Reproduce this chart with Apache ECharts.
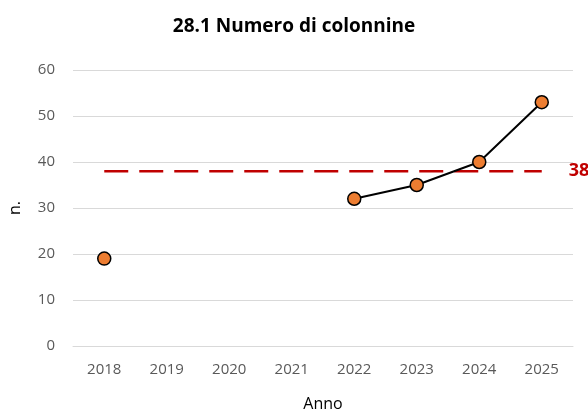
<!DOCTYPE html>
<html>
<head>
<meta charset="utf-8">
<script src="https://cdn.jsdelivr.net/npm/echarts@6/dist/echarts.min.js"></script>
<style>
  html, body { margin: 0; padding: 0; background: #fff; }
  #chart { width: 588px; height: 414px; }
</style>
</head>
<body>
<div id="chart"></div>
<script>
// anni e valori
const anni = ['2018', '2019', '2020', '2021', '2022', '2023', '2024', '2025']
const colonnine = [19, null, null, null, 32, 35, 40, 53]
const soglia = [38, 38, 38, 38, 38, 38, 38, 38]

const chart = echarts.init(document.getElementById('chart'))
const font = '"Open Sans", "Noto Sans", sans-serif'

chart.setOption({
  animation: false,
  textStyle: { fontFamily: font },
  title: {
    text: '28.1 Numero di colonnine',
    left: 'center',
    top: 12,
    textStyle: { fontSize: 19, fontWeight: 'bold', color: '#000', fontFamily: font }
  },
  grid: { left: 73, right: 15, top: 70, bottom: 68, outerBoundsMode: 'none' },
  xAxis: {
    type: 'category',
    data: anni,
    name: 'Anno',
    nameLocation: 'middle',
    nameGap: 50,
    nameTextStyle: { fontSize: 16, color: '#000' },
    axisLine: { lineStyle: { color: '#d9d9d9', width: 1 } },
    axisTick: { show: false },
    axisLabel: { color: '#595959', fontSize: 15, margin: 16 }
  },
  yAxis: {
    type: 'value',
    min: 0,
    max: 60,
    interval: 10,
    name: 'n.',
    nameLocation: 'middle',
    nameGap: 50,
    nameTextStyle: { fontSize: 16, color: '#000' },
    axisLine: { show: false },
    axisTick: { show: false },
    axisLabel: { color: '#595959', fontSize: 15, margin: 18 },
    splitLine: { lineStyle: { color: '#d9d9d9', width: 1 } }
  },
  series: [
    {
      // linea di riferimento tratteggiata
      type: 'line',
      data: soglia,
      symbol: 'none',
      silent: true,
      lineStyle: { color: '#c00000', width: 2.5, type: [24, 11] },
      endLabel: {
        show: true,
        formatter: '38',
        distance: 27,
        color: '#c00000',
        fontWeight: 'bold',
        fontSize: 18,
        fontFamily: font
      },
      z: 1
    },
    {
      type: 'line',
      data: colonnine,
      connectNulls: false,
      symbol: 'circle',
      symbolSize: 13,
      itemStyle: { color: '#ed7d31', borderColor: '#000', borderWidth: 1.5 },
      lineStyle: { color: '#000', width: 2 },
      z: 3
    }
  ]
})
</script>
</body>
</html>
